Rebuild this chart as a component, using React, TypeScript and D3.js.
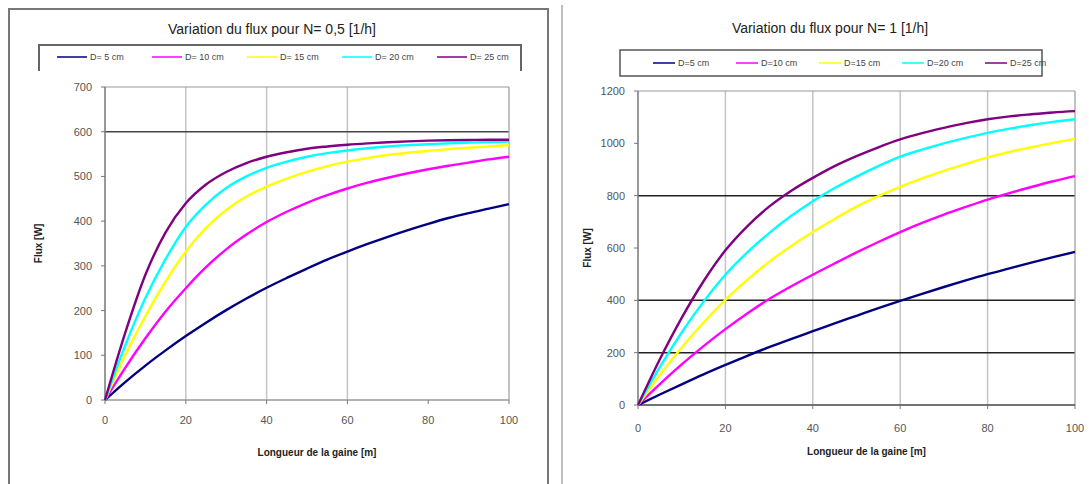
import React from "react";
import * as d3 from "d3";

// longueur de la gaine [m]
const lengths = [0, 5, 10, 15, 20, 25, 30, 35, 40, 45, 50, 55, 60, 65, 70, 75, 80, 85, 90, 95, 100];

const seriesNames = ["D= 5 cm", "D= 10 cm", "D= 15 cm", "D= 20 cm", "D= 25 cm"];
const seriesNamesRight = ["D=5 cm", "D=10 cm", "D=15 cm", "D=20 cm", "D=25 cm"];
const seriesColors = ["#000080", "#ff00ff", "#ffff00", "#00ffff", "#800080"];

// N = 0,5 [1/h]
const fluxHalfD5 = [0, 40, 77, 111, 143, 173, 201, 227, 251, 273, 294, 314, 332, 349, 365, 380, 394, 407, 418, 428, 438];
const fluxHalfD10 = [0, 72, 138, 198, 250, 297, 337, 370, 398, 421, 441, 458, 473, 486, 497, 507, 516, 524, 531, 538, 544];
const fluxHalfD15 = [0, 100, 187, 265, 332, 385, 425, 455, 477, 495, 510, 523, 533, 541, 548, 553, 557, 561, 564, 567, 570];
const fluxHalfD20 = [0, 122, 228, 315, 387, 437, 474, 500, 519, 533, 544, 552, 558, 563, 567, 570, 572, 574, 575.5, 577, 578];
const fluxHalfD25 = [0, 150, 280, 375, 440, 482, 510, 530, 544, 554, 562, 567, 571, 574, 576.5, 578.5, 580, 581, 581.5, 582, 582];

// N = 1 [1/h]
const fluxOneD5 = [0, 40, 79, 117, 153, 188, 221, 252, 282, 312, 341, 370, 398, 425, 451, 476, 500, 522, 544, 565, 585];
const fluxOneD10 = [0, 80, 155, 225, 290, 350, 405, 453, 498, 541, 583, 623, 661, 696, 728, 757, 785, 810, 833, 855, 875];
const fluxOneD15 = [0, 115, 220, 315, 402, 478, 547, 607, 661, 711, 758, 798, 834, 866, 895, 921, 946, 967, 985, 1002, 1017];
const fluxOneD20 = [0, 145, 277, 395, 498, 583, 657, 722, 779, 829, 873, 913, 949, 976, 1000, 1021, 1040, 1056, 1070, 1082, 1092];
const fluxOneD25 = [0, 175, 333, 473, 591, 683, 758, 818, 868, 913, 951, 985, 1015, 1039, 1059, 1077, 1092, 1103, 1111, 1118, 1123];

const xTicks = [0, 20, 40, 60, 80, 100];
const yTicksLeft = [0, 100, 200, 300, 400, 500, 600, 700];
const yTicksRight = [0, 200, 400, 600, 800, 1000, 1200];

const FONT = "'Liberation Sans', Arial, sans-serif";

type ChartProps = {
  title: string;
  titleX: number;
  titleY: number;
  plot: { x0: number; x1: number; y0: number; y1: number };
  yMax: number;
  yTicks: number[];
  hLines: number[];
  hLineColor: string;
  vLines: number[];
  axisColor: string;
  series: number[][];
  names: string[];
  legend: { x: number; y: number; step: number; len: number };
  yLabelX: number;
  xLabelY: number;
  tickLabelY: number;
};

const Chart = (p: ChartProps) => {
  const { x0, x1, y0, y1 } = p.plot;
  const x = d3.scaleLinear().domain([0, 100]).range([x0, x1]);
  const y = d3.scaleLinear().domain([0, p.yMax]).range([y1, y0]);
  const line = d3
    .line<number>()
    .x((_, i) => x(lengths[i]))
    .y((d) => y(d))
    .curve(d3.curveMonotoneX);

  return (
    <g fontFamily={FONT}>
      <text x={p.titleX} y={p.titleY} textAnchor="middle" fontSize={14} fill="#222">
        {p.title}
      </text>

      {/* grid */}
      {p.vLines.map((t) => (
        <line key={"v" + t} x1={x(t)} x2={x(t)} y1={y0} y2={y1} stroke="#c4c4c4" strokeWidth={1.5} />
      ))}
      {p.hLines.map((t) => (
        <line key={"h" + t} x1={x0} x2={x1} y1={y(t)} y2={y(t)} stroke={p.hLineColor} strokeWidth={1.5} />
      ))}
      <line x1={x0} x2={x1} y1={y0} y2={y0} stroke="#999" strokeWidth={1.2} />
      <line x1={x1} x2={x1} y1={y0} y2={y1} stroke="#999" strokeWidth={1.2} />

      {/* axes */}
      <line x1={x0} x2={x0} y1={y0} y2={y1} stroke="#777" strokeWidth={1.5} />
      <line x1={x0} x2={x1} y1={y1} y2={y1} stroke={p.axisColor} strokeWidth={1.5} />
      {p.yTicks.map((t) => (
        <g key={"yt" + t}>
          <line x1={x0 - 4} x2={x0} y1={y(t)} y2={y(t)} stroke="#777" />
          <text x={x0 - 13} y={y(t) + 4} textAnchor="end" fontSize={11} fill="#555">
            {t}
          </text>
        </g>
      ))}
      {xTicks.map((t) => (
        <g key={"xt" + t}>
          <line x1={x(t)} x2={x(t)} y1={y1} y2={y1 + 4} stroke="#777" />
          <text x={x(t)} y={p.tickLabelY} textAnchor="middle" fontSize={11} fill="#555">
            {t}
          </text>
        </g>
      ))}

      {/* series */}
      {p.series.map((s, i) => (
        <path key={"s" + i} d={line(s) ?? ""} fill="none" stroke={seriesColors[i]} strokeWidth={2.4} />
      ))}

      {/* axis titles */}
      <text
        transform={`translate(${p.yLabelX}, ${(y0 + y1) / 2}) rotate(-90)`}
        textAnchor="middle"
        fontSize={10}
        fontWeight="bold"
        fill="#222"
      >
        Flux [W]
      </text>
      <text x={(x0 + x1) / 2 + 10} y={p.xLabelY} textAnchor="middle" fontSize={10} fontWeight="bold" fill="#222">
        Longueur de la gaine [m]
      </text>

      {/* legend entries */}
      {p.names.map((n, i) => {
        const lx = p.legend.x + i * p.legend.step;
        return (
          <g key={"l" + i}>
            <line x1={lx} x2={lx + p.legend.len} y1={p.legend.y} y2={p.legend.y} stroke={seriesColors[i]} strokeWidth={1.5} />
            <text x={lx + p.legend.len + 3} y={p.legend.y + 3} fontSize={9} fill="#444">
              {n}
            </text>
          </g>
        );
      })}
    </g>
  );
};

const App = () => {
  return (
    <svg
      width={1089}
      height={484}
      style={{ position: "absolute", left: 0, top: 0, background: "#fff" }}
    >
      <rect x={0} y={0} width={1089} height={484} fill="#fff" />
      {/* outer frames */}
      <rect x={9} y={9} width={539} height={490} fill="none" stroke="#777" strokeWidth={2} />
      <line x1={562} x2={562} y1={5} y2={484} stroke="#aaa" strokeWidth={1.5} />

      {/* legend boxes */}
      <path d="M39,71 V45 H521 V71" fill="none" stroke="#666" strokeWidth={2} />
      <rect x={620} y={50} width={422} height={26} fill="#fff" stroke="#555" strokeWidth={1.5} />

      <Chart
        title="Variation du flux pour N= 0,5 [1/h]"
        titleX={272}
        titleY={34}
        plot={{ x0: 105, x1: 509, y0: 87, y1: 400 }}
        yMax={700}
        yTicks={yTicksLeft}
        hLines={[600]}
        hLineColor="#444"
        vLines={[20, 40, 60]}
        axisColor="#999"
        series={[fluxHalfD5, fluxHalfD10, fluxHalfD15, fluxHalfD20, fluxHalfD25]}
        names={seriesNames}
        legend={{ x: 57, y: 57, step: 95, len: 30 }}
        yLabelX={42}
        xLabelY={456}
        tickLabelY={424}
      />
      <Chart
        title="Variation du flux pour N= 1 [1/h]"
        titleX={830}
        titleY={33}
        plot={{ x0: 638, x1: 1075, y0: 91, y1: 405 }}
        yMax={1200}
        yTicks={yTicksRight}
        hLines={[200, 400, 800]}
        hLineColor="#222"
        vLines={[20, 40, 60, 80]}
        axisColor="#444"
        series={[fluxOneD5, fluxOneD10, fluxOneD15, fluxOneD20, fluxOneD25]}
        names={seriesNamesRight}
        legend={{ x: 653, y: 63, step: 83, len: 22 }}
        yLabelX={591}
        xLabelY={455}
        tickLabelY={432}
      />
    </svg>
  );
};

export default App;
